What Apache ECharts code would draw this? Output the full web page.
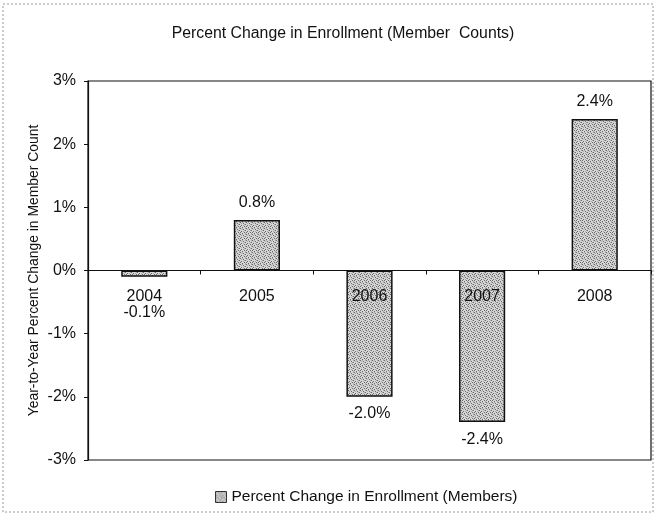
<!DOCTYPE html>
<html>
<head>
<meta charset="utf-8">
<script src="https://cdn.jsdelivr.net/npm/echarts@6/dist/echarts.min.js"></script>
<style>
  html, body { margin: 0; padding: 0; background: #fff; }
  #chart { width: 654px; height: 515px; }
</style>
</head>
<body>
<div id="chart"></div>
<script>
// Enrollment change by year, in percent
const years = ['2004', '2005', '2006', '2007', '2008'];
const pctChange = [-0.1, 0.8, -2.0, -2.4, 2.4];
const yTicks = [-3, -2, -1, 0, 1, 2, 3];

const font = 'Liberation Sans, Arial, sans-serif';
const ink = '#111';

// Stippled gray fill: a fixed dot pattern tiled across each bar
function stipple() {
  const c = document.createElement('canvas');
  c.width = 6; c.height = 6;
  const g = c.getContext('2d');
  g.fillStyle = '#d6d6d6';
  g.fillRect(0, 0, 6, 6);
  const dark = [[0, 0], [3, 1], [5, 2], [1, 3], [4, 4], [2, 5], [0, 4]];
  const mid = [[2, 0], [5, 0], [1, 1], [3, 3], [5, 5], [4, 2]];
  g.fillStyle = '#6a6a6a';
  dark.forEach(([x, y]) => g.fillRect(x, y, 1, 1));
  g.fillStyle = '#a8a8a8';
  mid.forEach(([x, y]) => g.fillRect(x, y, 1, 1));
  return c;
}

const barData = pctChange.map((v, i) => {
  const item = { value: v };
  if (i === 0) {
    // small negative bar: its value sits under the year label
    item.label = { position: 'bottom', distance: 28 };
  }
  return item;
});

const chart = echarts.init(document.getElementById('chart'), null, { renderer: 'canvas' });
chart.setOption({
  animation: false,
  backgroundColor: '#fff',
  textStyle: { fontFamily: font },
  title: {
    text: 'Percent Change in Enrollment (Member  Counts)',
    left: 338, top: 21, textAlign: 'center',
    textStyle: { fontFamily: font, fontSize: 15.8, fontWeight: 'normal', color: ink }
  },
  legend: {
    top: 484, left: 210,
    itemWidth: 11, itemHeight: 11,
    data: [{ name: 'Percent Change in Enrollment (Members)', icon: 'rect' }],
    itemStyle: { borderColor: '#333', borderWidth: 1 },
    textStyle: { fontFamily: font, fontSize: 15.5, color: ink }
  },
  grid: { left: 88, right: 3, top: 81, bottom: 55, show: true, borderColor: ink, borderWidth: 1.2 },
  xAxis: {
    type: 'category',
    data: years,
    z: 5,
    axisLine: { onZero: false, lineStyle: { color: ink, width: 1.2 } },
    axisTick: { show: true, alignWithLabel: false, length: 4, lineStyle: { color: ink } },
    axisLabel: { margin: 18, fontFamily: font, fontSize: 16, color: ink }
  },
  yAxis: {
    type: 'value',
    min: -3, max: 3, interval: 1,
    name: 'Year-to-Year Percent Change in Member Count',
    nameLocation: 'middle', nameGap: 47, nameMoveOverlap: false,
    nameTextStyle: { fontFamily: font, fontSize: 13.9, color: ink },
    axisLine: { show: true, lineStyle: { color: ink, width: 1.2 } },
    axisTick: { show: true, length: 4, lineStyle: { color: ink } },
    splitLine: { show: false },
    axisLabel: {
      margin: 12, fontFamily: font, fontSize: 16, color: ink,
      customValues: yTicks,
      formatter: v => v + '%'
    }
  },
  series: [{
    name: 'Percent Change in Enrollment (Members)',
    type: 'bar',
    data: barData,
    barWidth: '41%',
    itemStyle: {
      color: { image: stipple(), repeat: 'repeat' },
      borderColor: ink,
      borderWidth: 1.5
    },
    label: {
      show: true,
      position: 'outside',
      distance: 9,
      fontFamily: font, fontSize: 16, color: ink,
      formatter: p => p.value.toFixed(1) + '%'
    },
    z: 1
  }],
  graphic: [{
    type: 'rect',
    shape: { x: 3, y: 4, width: 650, height: 508 },
    style: { fill: 'none', stroke: '#999', lineWidth: 1, lineDash: [2, 2] },
    silent: true
  }]
});

// Put the category axis (line, ticks and year labels) on the zero line
const yZero = chart.convertToPixel({ yAxisIndex: 0 }, 0);
const yMin = chart.convertToPixel({ yAxisIndex: 0 }, -3);
chart.setOption({ xAxis: { offset: yZero - yMin } });
</script>
</body>
</html>
